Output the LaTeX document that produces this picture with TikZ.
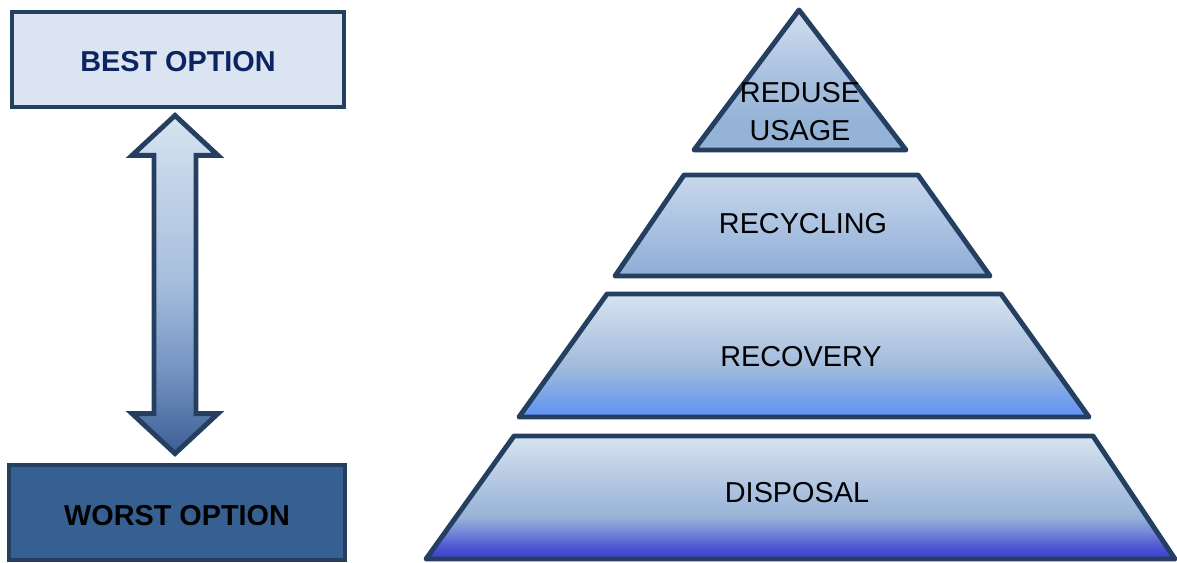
\documentclass[tikz,border=0pt]{standalone}
\usepackage{fontspec}
\setmainfont{Liberation Sans}
\usetikzlibrary{calc}

\definecolor{edge}{HTML}{243F60}
\definecolor{bestfill}{HTML}{DBE5F1}
\definecolor{besttext}{HTML}{0C2462}
\definecolor{worstfill}{HTML}{366092}

% vertical fills, 25bp = bottom of the path, 75bp = top
\pgfdeclareverticalshading{tiertop}{100bp}{color(0bp)=(rgb,255:red,149;green,179;blue,215); color(35bp)=(rgb,255:red,149;green,179;blue,215); color(52bp)=(rgb,255:red,170;green,193;blue,224); color(75bp)=(rgb,255:red,210;green,222;blue,238); color(100bp)=(rgb,255:red,210;green,222;blue,238)}
\pgfdeclareverticalshading{tiertwo}{100bp}{color(0bp)=(rgb,255:red,142;green,172;blue,214); color(25bp)=(rgb,255:red,142;green,172;blue,214); color(50bp)=(rgb,255:red,171;green,194;blue,225); color(75bp)=(rgb,255:red,201;green,216;blue,236); color(100bp)=(rgb,255:red,201;green,216;blue,236)}
\pgfdeclareverticalshading{tierthree}{100bp}{color(0bp)=(rgb,255:red,94;green,146;blue,244); color(25bp)=(rgb,255:red,94;green,146;blue,244); color(33bp)=(rgb,255:red,120;green,162;blue,235); color(45bp)=(rgb,255:red,160;green,186;blue,219); color(75bp)=(rgb,255:red,215;green,227;blue,240); color(100bp)=(rgb,255:red,215;green,227;blue,240)}
\pgfdeclareverticalshading{tierfour}{100bp}{color(0bp)=(rgb,255:red,59;green,59;blue,206); color(25bp)=(rgb,255:red,59;green,59;blue,206); color(30bp)=(rgb,255:red,80;green,86;blue,210); color(36bp)=(rgb,255:red,117;green,134;blue,216); color(42bp)=(rgb,255:red,151;green,178;blue,215); color(75bp)=(rgb,255:red,215;green,227;blue,240); color(100bp)=(rgb,255:red,215;green,227;blue,240)}
\pgfdeclareverticalshading{updown}{100bp}{color(0bp)=(rgb,255:red,60;green,95;blue,149); color(25bp)=(rgb,255:red,60;green,95;blue,149); color(38bp)=(rgb,255:red,120;green,150;blue,195); color(50bp)=(rgb,255:red,165;green,189;blue,220); color(75bp)=(rgb,255:red,215;green,227;blue,241); color(100bp)=(rgb,255:red,215;green,227;blue,241)}

\def\lw{2.8pt}
\def\headw{43}
\def\shaftw{21}
\def\headl{40}

\tikzset{
  optionbox/.style={draw=edge, line width=\lw, minimum height=1.9cm,
    font=\bfseries\fontsize{16.4}{20}\selectfont},
  tier/.style={draw=edge, line width=\lw, line join=round},
  tierlabel/.style={align=center, inner sep=0pt, font=\fontsize{16.4}{22}\selectfont}
}

\begin{document}
\begin{tikzpicture}[x=0.02cm, y=-0.02cm]
        \useasboundingbox (0,0) rectangle (1177,563);
        % best / worst boxes
        \node[optionbox, fill=bestfill, text=besttext, minimum width=6.64cm, text height=13.7pt] (best) at (178,59.5) {BEST OPTION};
        \node[optionbox, fill=worstfill, text=black, minimum width=6.72cm, text height=14.8pt] (worst) at (177,512.5) {WORST OPTION};
        % double block arrow between them
        \coordinate (up) at ($(best.south)+(-3,6)$);
        \coordinate (down) at ($(worst.north)+(-2,-9)$);
        \shadedraw[shading=updown, draw=edge, line width=\lw]
            (up) -- ++(\headw,\headl) -- ++(-\headw+\shaftw,0)
            -- ($(down)+(\shaftw,-\headl)$) -- ++(\headw-\shaftw,0) -- (down)
            -- ++(-\headw,-\headl) -- ++(\headw-\shaftw,0)
            -- ($(up)+(-\shaftw,\headl)$) -- ++(-\headw+\shaftw,0) -- cycle;

        % pyramid, top to bottom
        \shadedraw[tier, shading=tiertop] (799,10) -- (906,150) -- (694,150) -- cycle;
        \shadedraw[tier, shading=tiertwo] (684,175) -- (918,175) -- (990,276) -- (615,276) -- cycle;
        \shadedraw[tier, shading=tierthree] (607,294) -- (1001,294) -- (1089,417) -- (519,417) -- cycle;
        \shadedraw[tier, shading=tierfour] (514,436) -- (1093,436) -- (1175,559) -- (426,559) -- cycle;
        % tier labels
        \node[tierlabel] (reduce) at (800,111.5) {REDUSE\\USAGE};
        \node[tierlabel] (recycling) at (803,224) {RECYCLING};
        \node[tierlabel] (recovery) at (801,357) {RECOVERY};
        \node[tierlabel] (disposal) at (797,493) {DISPOSAL};
    \end{tikzpicture}
\end{document}
